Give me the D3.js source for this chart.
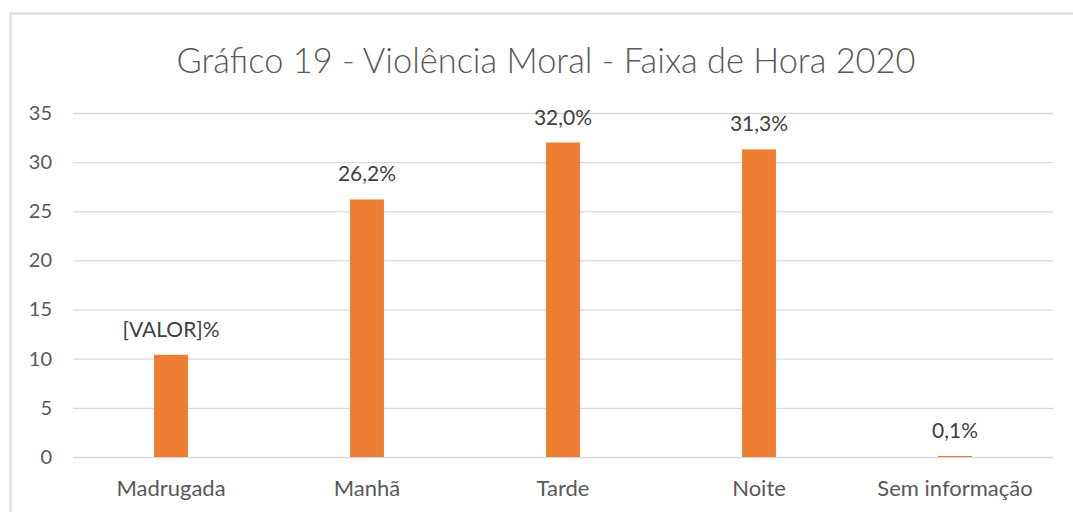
<!DOCTYPE html>
<html>
<head>
<meta charset="utf-8">
<script src="https://cdn.jsdelivr.net/npm/d3@7"></script>
<style>
  body { margin: 0; background: #fff; }
  text { font-family: Lato, "Open Sans", sans-serif; }
</style>
</head>
<body>
<div class="chart"></div>
<script>
var title = "Gráfico 19 - Violência Moral - Faixa de Hora 2020";
var categories = ["Madrugada", "Manhã", "Tarde", "Noite", "Sem informação"];
var values = [10.4, 26.2, 32.0, 31.3, 0.1];
var valueLabels = ["[VALOR]%", "26,2%", "32,0%", "31,3%", "0,1%"];
var yTicks = [0, 5, 10, 15, 20, 25, 30, 35];

var width = 1073, height = 512;
var margin = {top: 113, right: 20, bottom: 55, left: 73};
var plotW = 1053 - margin.left;
var plotH = 457 - margin.top;

var svg = d3.select(".chart").append("svg")
    .attr("width", width)
    .attr("height", height);

// chart frame (runs off right/bottom edge like the original)
svg.append("rect")
    .attr("x", 10.5).attr("y", 13.5)
    .attr("width", 1200).attr("height", 600)
    .attr("fill", "none")
    .attr("stroke", "#d9d9d9")
    .attr("stroke-width", 2);

svg.append("text")
    .attr("x", 546).attr("y", 73)
    .attr("text-anchor", "middle")
    .attr("font-size", 34.4)
    .attr("font-weight", 300)
    .attr("fill", "#595959")
    .text(title);

var g = svg.append("g")
    .attr("transform", "translate(" + margin.left + "," + margin.top + ")");

var x = d3.scaleBand()
    .domain(categories)
    .range([0, plotW])
    .paddingInner(0.827)
    .paddingOuter(0.4135);

var y = d3.scaleLinear()
    .domain([0, 35])
    .range([plotH, 0]);

// gridlines + y labels
var yAxis = g.append("g")
    .call(d3.axisLeft(y).tickValues(yTicks).tickSize(-plotW).tickPadding(21));
yAxis.select(".domain").remove();
yAxis.selectAll(".tick line").attr("stroke", "#d9d9d9").attr("stroke-width", 1.3);
yAxis.selectAll(".tick text")
    .attr("font-size", 20)
    .attr("fill", "#595959")
    .attr("font-family", "Lato, sans-serif");

// x labels
var xAxis = g.append("g")
    .attr("transform", "translate(0," + plotH + ")")
    .call(d3.axisBottom(x).tickSize(0).tickPadding(0));
xAxis.select(".domain").remove();
xAxis.selectAll(".tick text")
    .attr("dy", null)
    .attr("y", 39)
    .attr("font-size", 22)
    .attr("fill", "#595959")
    .attr("font-family", "Lato, sans-serif");

// bars
g.selectAll(".bar")
    .data(values)
    .enter().append("rect")
    .attr("class", "bar")
    .attr("x", function(d, i) { return x(categories[i]); })
    .attr("y", function(d) { return y(d); })
    .attr("width", x.bandwidth())
    .attr("height", function(d) { return plotH - y(d); })
    .attr("fill", "#ed7d31");

// value labels
g.selectAll(".val")
    .data(values)
    .enter().append("text")
    .attr("class", "val")
    .attr("x", function(d, i) { return x(categories[i]) + x.bandwidth() / 2; })
    .attr("y", function(d) { return y(d) - 18; })
    .attr("text-anchor", "middle")
    .attr("font-size", 21)
    .attr("fill", "#404040")
    .text(function(d, i) { return valueLabels[i]; });
</script>
</body>
</html>
